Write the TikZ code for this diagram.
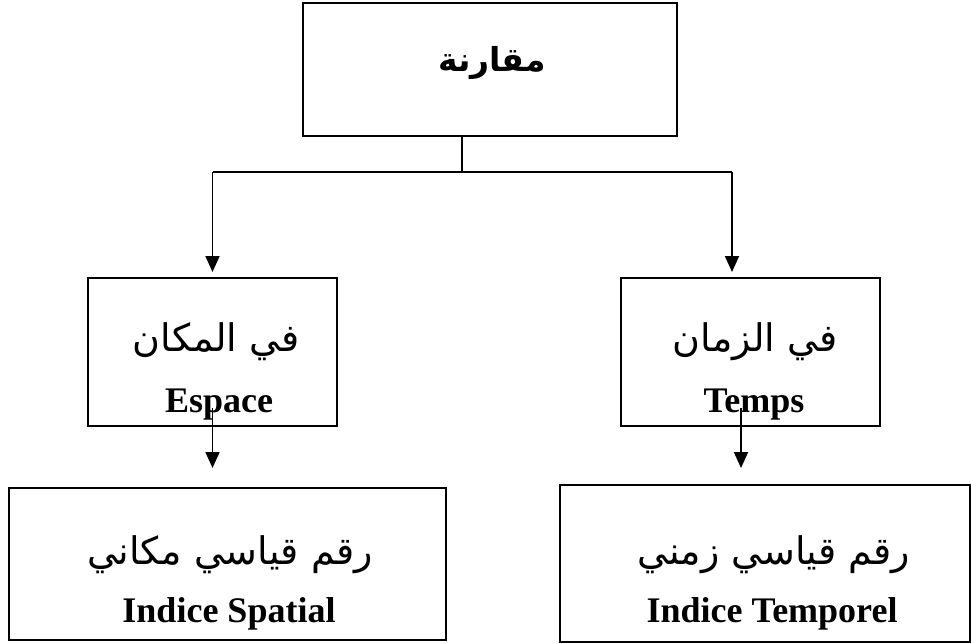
\documentclass[tikz,border=0pt]{standalone}
\usepackage{fontspec}
\setmainfont{Liberation Serif}
\newfontfamily\arabicfont[Script=Arabic]{DejaVu Sans}
\TeXXeTstate=1
\usetikzlibrary{arrows.meta}
\begin{document}
\begin{tikzpicture}[x=1pt,y=-1pt,
  box/.style={draw, line width=1.8pt, inner sep=0pt, outer sep=0pt, rectangle},
  artxt/.style={anchor=base, inner sep=0pt, font=\arabicfont\fontsize{38}{44}\selectfont},
  artop/.style={anchor=base, inner sep=0pt, font=\arabicfont\bfseries\fontsize{33}{40}\selectfont},
  latxt/.style={anchor=base, inner sep=0pt, font=\bfseries\fontsize{36}{42}\selectfont},
  conn/.style={line width=1.8pt},
  arr/.style={line width=1.8pt, -{Triangle[length=16pt,width=14pt]}}]
\useasboundingbox (0,0) rectangle (971,643);
% boxes
\node[box, minimum width=374pt, minimum height=133pt] (top) at (490,69.5) {};
\node[box, minimum width=249pt, minimum height=148pt] (ml) at (212.5,352) {};
\node[box, minimum width=259pt, minimum height=148pt] (mr) at (750.5,352) {};
\node[box, minimum width=437pt, minimum height=152pt] (bl) at (227.5,564) {};
\node[box, minimum width=410pt, minimum height=157pt] (br) at (765,563.5) {};
% texts
\node[artop] (t0) at (492,71) {\beginR مقارنة\endR};
\node[artxt] (tml) at (216,351) {\beginR في المكان\endR};
\node[latxt] (lml) at (219,412) {Espace};
\node[artxt] (tmr) at (755,351) {\beginR في الزمان\endR};
\node[latxt] (lmr) at (754,412) {Temps};
\node[artxt] (tbl) at (230,564) {\beginR رقم قياسي مكاني\endR};
\node[latxt] (lbl) at (229,622) {Indice Spatial};
\node[artxt] (tbr) at (774,564) {\beginR رقم قياسي زمني\endR};
\node[latxt] (lbr) at (772,622) {Indice Temporel};
% connectors
\coordinate (j) at (462,172);
\coordinate (lj) at (212.5,172);
\coordinate (rj) at (732,172);
\draw[conn] (top.south -| j) -- (j);
\draw[conn] (lj) -- (rj);
\draw[arr, shorten >=6pt] (lj) -- (ml.north);
\draw[arr, shorten >=6pt] (rj) -- (rj |- mr.north);
\coordinate (la) at (212.5,408);
\coordinate (ra) at (741,408);
\draw[arr, shorten >=20pt] (la) -- (la |- bl.north);
\draw[arr, shorten >=17pt] (ra) -- (ra |- br.north);
\end{tikzpicture}
\end{document}
